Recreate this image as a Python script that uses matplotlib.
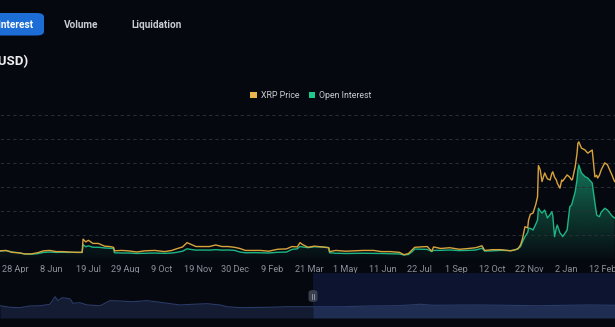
import numpy as np
import pandas as pd
import matplotlib
matplotlib.use("Agg")
import matplotlib.pyplot as plt
import matplotlib.dates as mdates
from matplotlib.patches import Patch, FancyBboxPatch
from matplotlib.colors import LinearSegmentedColormap, to_rgba

plt.rcParams['font.family'] = ['Roboto', 'DejaVu Sans']

# ---- data -------------------------------------------------------------
dates = [
    "2023-04-11", "2023-04-18", "2023-04-25", "2023-05-02", "2023-05-09", "2023-05-16",
    "2023-05-23", "2023-05-30", "2023-06-06", "2023-06-13", "2023-06-20", "2023-06-27",
    "2023-07-04", "2023-07-12", "2023-07-13", "2023-07-16", "2023-07-19", "2023-07-24",
    "2023-07-30", "2023-08-06", "2023-08-12", "2023-08-16", "2023-08-17", "2023-08-25",
    "2023-09-01", "2023-09-11", "2023-09-20", "2023-10-01", "2023-10-12", "2023-10-20",
    "2023-10-25", "2023-11-01", "2023-11-06", "2023-11-10", "2023-11-16", "2023-11-24",
    "2023-12-01", "2023-12-08", "2023-12-15", "2023-12-22", "2023-12-29", "2024-01-04",
    "2024-01-10", "2024-01-20", "2024-01-27", "2024-02-05", "2024-02-15", "2024-02-25",
    "2024-03-02", "2024-03-08", "2024-03-11", "2024-03-14", "2024-03-20", "2024-03-27",
    "2024-04-05", "2024-04-12", "2024-04-13", "2024-04-20", "2024-05-01", "2024-05-10",
    "2024-05-20", "2024-06-01", "2024-06-10", "2024-06-20", "2024-06-30", "2024-07-05",
    "2024-07-10", "2024-07-14", "2024-07-17", "2024-07-23", "2024-07-31", "2024-08-05",
    "2024-08-07", "2024-08-15", "2024-08-25", "2024-09-05", "2024-09-15", "2024-09-23",
    "2024-09-30", "2024-10-03", "2024-10-12", "2024-10-21", "2024-11-01", "2024-11-05",
    "2024-11-09", "2024-11-12", "2024-11-14", "2024-11-17", "2024-11-20", "2024-11-21",
    "2024-11-23", "2024-11-26", "2024-11-29", "2024-12-01", "2024-12-02", "2024-12-04",
    "2024-12-06", "2024-12-09", "2024-12-12", "2024-12-15", "2024-12-17", "2024-12-18",
    "2024-12-20", "2024-12-22", "2024-12-23", "2024-12-26", "2024-12-28", "2024-12-29",
    "2025-01-03", "2025-01-06", "2025-01-08", "2025-01-09", "2025-01-12", "2025-01-14",
    "2025-01-15", "2025-01-16", "2025-01-19", "2025-01-23", "2025-01-26", "2025-01-31",
    "2025-02-03", "2025-02-05", "2025-02-06", "2025-02-08", "2025-02-10", "2025-02-14",
    "2025-02-17", "2025-02-22", "2025-02-23", "2025-02-25",
]

# XRP price, USD
xrp_price = [
    0.51, 0.52, 0.47, 0.46, 0.43, 0.43,
    0.46, 0.51, 0.52, 0.49, 0.49, 0.48,
    0.47, 0.47, 0.81, 0.74, 0.78, 0.70,
    0.70, 0.63, 0.62, 0.60, 0.51, 0.52,
    0.51, 0.48, 0.51, 0.52, 0.49, 0.52,
    0.56, 0.61, 0.72, 0.68, 0.62, 0.62,
    0.62, 0.66, 0.62, 0.62, 0.60, 0.57,
    0.52, 0.52, 0.52, 0.50, 0.55, 0.56,
    0.62, 0.61, 0.72, 0.67, 0.60, 0.63,
    0.61, 0.59, 0.49, 0.52, 0.50, 0.51,
    0.52, 0.52, 0.49, 0.49, 0.47, 0.41,
    0.44, 0.53, 0.60, 0.61, 0.62, 0.50,
    0.61, 0.57, 0.59, 0.55, 0.57, 0.59,
    0.64, 0.52, 0.54, 0.54, 0.51, 0.53,
    0.56, 0.66, 0.80, 1.13, 1.10, 1.30,
    1.45, 1.48, 1.70, 1.90, 2.70, 2.59,
    2.29, 2.51, 2.36, 2.33, 2.50, 2.54,
    2.40, 2.33, 2.25, 2.12, 2.33, 2.30,
    2.46, 2.40, 2.33, 2.35, 2.67, 3.00,
    3.27, 3.31, 3.15, 3.10, 3.02, 3.10,
    2.41, 2.45, 2.38, 2.45, 2.59, 2.77,
    2.72, 2.46, 2.40, 2.29,
]

# Aggregated open interest, billion USD
open_interest_bn = [
    0.66, 0.70, 0.58, 0.52, 0.42, 0.40,
    0.44, 0.55, 0.58, 0.55, 0.56, 0.55,
    0.56, 0.55, 1.20, 1.02, 1.10, 0.98,
    0.98, 0.92, 0.90, 0.88, 0.52, 0.50,
    0.50, 0.46, 0.48, 0.50, 0.47, 0.50,
    0.55, 0.65, 0.85, 0.80, 0.74, 0.75,
    0.74, 0.78, 0.74, 0.75, 0.72, 0.58,
    0.52, 0.53, 0.52, 0.50, 0.56, 0.58,
    0.80, 0.85, 1.05, 1.00, 0.95, 1.02,
    1.00, 0.95, 0.52, 0.48, 0.46, 0.47,
    0.48, 0.47, 0.46, 0.44, 0.42, 0.33,
    0.38, 0.60, 0.83, 0.82, 0.80, 0.62,
    0.72, 0.72, 0.75, 0.70, 0.72, 0.75,
    0.90, 0.66, 0.68, 0.72, 0.70, 0.75,
    0.85, 1.03, 1.40, 1.86, 2.20, 2.58,
    2.55, 2.42, 2.90, 3.25, 4.23, 4.00,
    3.83, 4.08, 3.42, 3.70, 3.94, 3.60,
    1.86, 2.60, 2.83, 2.17, 2.00, 1.86,
    2.42, 4.36, 4.50, 4.78, 5.60, 6.58,
    7.40, 7.83, 7.17, 6.86, 6.75, 6.33,
    4.67, 3.67, 3.60, 3.53, 3.90, 4.23,
    4.08, 3.60, 3.53, 3.42,
]

tick_dates = [
    "2023-04-28", "2023-06-08", "2023-07-19", "2023-08-29", "2023-10-09", "2023-11-19",
    "2023-12-30", "2024-02-09", "2024-03-21", "2024-05-01", "2024-06-11", "2024-07-22",
    "2024-09-01", "2024-10-12", "2024-11-22", "2025-01-02", "2025-02-12",
]

# long-range overview series shown in the navigator strip
nav_dates = [
    "2021-01-01", "2021-01-26", "2021-02-19", "2021-03-16", "2021-04-10", "2021-05-04",
    "2021-05-17", "2021-05-24", "2021-06-03", "2021-06-15", "2021-06-23", "2021-06-30",
    "2021-07-17", "2021-08-04", "2021-09-05", "2021-09-29", "2021-10-24", "2021-11-25",
    "2021-12-30", "2022-01-31", "2022-02-17", "2022-03-21", "2022-04-22", "2022-05-27",
    "2022-06-28", "2022-07-15", "2022-08-16", "2022-10-22", "2022-12-10", "2023-01-11",
    "2023-02-12", "2023-04-20", "2023-07-08", "2023-09-15", "2023-11-03", "2023-11-15",
    "2023-12-03", "2024-03-10", "2024-05-31", "2024-08-20", "2024-12-22", "2025-02-26",
]
nav_values = [
    1.09, 0.95, 0.92, 1.07, 1.09, 1.22,
    1.89, 1.54, 1.80, 1.75, 1.69, 1.31,
    1.36, 1.16, 1.09, 1.54, 1.51, 1.45,
    1.54, 1.40, 1.31, 1.16, 1.22, 1.27,
    1.16, 1.00, 0.92, 0.95, 1.00, 1.00,
    1.00, 1.00, 1.07, 1.10, 1.22, 1.19,
    1.13, 1.16, 1.13, 1.09, 1.16, 1.13,
]
nav_selection_start = "2023-02-12"

tabs = ["Open Interest", "Volume", "Liquidation"]
series_names = ["XRP Price", "Open Interest"]
title = "XRP Open Interest (USD)"

# ---- styling ------------------------------------------------------------
BG = '#06080f'
PRICE_C = '#d9a43c'
OI_C = '#1db584'
GRID_C = '#2a2e38'
TICK_C = '#8b909c'

W, H = 615, 327
fig = plt.figure(figsize=(W / 100, H / 100), dpi=100, facecolor=BG)


def fx(px):
    return px / W


def fy(py):
    return 1 - py / H


# ---- main chart ------------------------------------------------------------
t = mdates.date2num(pd.to_datetime(dates))
oi = np.array(open_interest_bn)
price = np.array(xrp_price)

ax = fig.add_axes([0, fy(259), 1, (259 - 115) / H])
ax.set_facecolor(BG)
for s in ax.spines.values():
    s.set_visible(False)

poly = ax.fill_between(t, 0, oi, facecolor='none', edgecolor='none')
grad = np.linspace(0, 1, 256).reshape(-1, 1)
cmap = LinearSegmentedColormap.from_list(
    'oi_fade', [to_rgba(OI_C, 0.03), to_rgba(OI_C, 0.30), to_rgba(OI_C, 0.62)])
img = ax.imshow(grad, aspect='auto', cmap=cmap, origin='lower',
                extent=[t.min(), t.max(), 0, oi.max()], zorder=1,
                interpolation='bilinear')
img.set_clip_path(poly.get_paths()[0], transform=ax.transData)
ax.plot(t, oi, color=OI_C, lw=1.0, zorder=3)

ax.set_ylim(0, 12)
ax.set_yticks(np.linspace(0, 12, 7))
ax.yaxis.grid(True, color=GRID_C, linestyle=(0, (3.5, 3)), lw=0.7)
ax.tick_params(axis='y', left=False, labelleft=False)

ax2 = ax.twinx()
ax2.plot(t, price, color=PRICE_C, lw=1.0, zorder=4)
ax2.set_ylim(0.3, 4.0)
ax2.axis('off')

xmin = mdates.date2num(pd.Timestamp("2023-04-11 08:00"))
xmax = mdates.date2num(pd.Timestamp("2025-02-25 10:00"))
ax.set_xlim(xmin, xmax)
ax2.set_xlim(xmin, xmax)

tk = pd.to_datetime(tick_dates)
ax.set_xticks(mdates.date2num(tk))
ax.set_xticklabels([f"{d.day} {d.strftime('%b')}" for d in tk])
ax.tick_params(axis='x', length=0, pad=4, labelsize=6.6, colors=TICK_C)

# ---- navigator -------------------------------------------------------------
nav = fig.add_axes([0, fy(318), 1, (318 - 273) / H])
nav.set_facecolor(BG)
for s in nav.spines.values():
    s.set_visible(False)
nt = mdates.date2num(pd.to_datetime(nav_dates))
nv = np.array(nav_values)
sel = mdates.date2num(pd.Timestamp(nav_selection_start))
nav.axvspan(sel, nt.max() + 30, color='#0c1430', lw=0, zorder=0)
nav.fill_between(nt, 0, nv, where=nt <= sel, color='#131c33', lw=0, zorder=1)
nav.fill_between(nt, 0, nv, where=nt >= sel, color='#1f2d52', lw=0, zorder=1)
nav.plot(nt, nv, color='#2b3b68', lw=0.8, zorder=2)
nav.set_xlim(mdates.date2num(pd.Timestamp("2021-01-01")),
             mdates.date2num(pd.Timestamp("2025-02-26")))
nav.set_ylim(0, 4)
nav.set_xticks([])
nav.set_yticks([])

# selection handle
handle = FancyBboxPatch((fx(308.5), fy(302)), 9 / W, 12 / H,
                        boxstyle="round,pad=0,rounding_size=0.008",
                        transform=fig.transFigure, facecolor='#3a3f4e',
                        edgecolor='none', zorder=10)
fig.add_artist(handle)
for hx in (311.8, 314.2):
    fig.add_artist(plt.Line2D([fx(hx), fx(hx)], [fy(293.5), fy(298.5)],
                              transform=fig.transFigure, color='#9aa0ad',
                              lw=0.6, zorder=11))

# ---- header ---------------------------------------------------------------
pill = FancyBboxPatch((fx(-20), fy(35.5)), 64 / W, 22.5 / H,
                      boxstyle="round,pad=0,rounding_size=0.012",
                      transform=fig.transFigure, facecolor='#1c6ed6',
                      edgecolor='none', zorder=5)
fig.add_artist(pill)
fig.text(fx(33.5), fy(24.5), tabs[0], ha='right', va='center', fontsize=7.2,
         weight='bold', color='white', zorder=6)
fig.text(fx(81.5), fy(24.5), tabs[1], ha='center', va='center', fontsize=7.2,
         weight='bold', color='#c9ccd3')
fig.text(fx(156.5), fy(24.5), tabs[2], ha='center', va='center', fontsize=7.2,
         weight='bold', color='#c9ccd3')

fig.text(fx(28.5), fy(61.5), title, ha='right', va='center', fontsize=9.5,
         weight='bold', color='#eceef2')

handles = [Patch(facecolor='#eab54a', edgecolor='none', label=series_names[0]),
           Patch(facecolor='#1fc98b', edgecolor='none', label=series_names[1])]
fig.legend(handles=handles, loc='center', bbox_to_anchor=(fx(311), fy(95.5)),
           ncol=2, frameon=False, fontsize=6.3, labelcolor='#c9ccd3',
           handlelength=0.75, handleheight=0.75, handletextpad=0.45,
           columnspacing=1.1, borderpad=0)

fig.savefig("out.png", dpi=100, facecolor=BG)
